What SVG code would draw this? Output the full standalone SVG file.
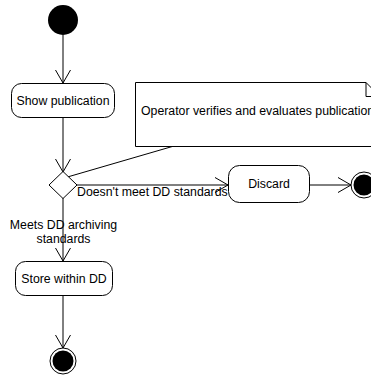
<svg xmlns="http://www.w3.org/2000/svg" width="371" height="380" viewBox="0 0 371 380">
  <defs>
    <style>
      .node { fill: #fff; stroke: #000; stroke-width: 1; }
      .line { fill: none; stroke: #000; stroke-width: 1; }
      .label { font-family: "Liberation Sans", Arial, sans-serif; font-size: 12.3px; fill: #000; }
      .mid { text-anchor: middle; }
    </style>
    <marker id="open" viewBox="0 0 14 16" refX="13" refY="8" markerWidth="14" markerHeight="16" markerUnits="userSpaceOnUse" orient="auto">
      <path d="M0,0.5 L13,8 L0,15.5" fill="none" stroke="#000" stroke-width="1"/>
    </marker>
  </defs>
  <rect width="371" height="380" fill="#fff"/>

  <g id="connectors">
    <line class="line" x1="63" y1="35" x2="63" y2="83" marker-end="url(#open)"/>
    <line class="line" x1="63" y1="118" x2="63" y2="172" marker-end="url(#open)"/>
    <line class="line" x1="77" y1="185" x2="228" y2="185" marker-end="url(#open)"/>
    <line class="line" x1="310" y1="185" x2="351" y2="185" marker-end="url(#open)"/>
    <line class="line" x1="63" y1="198" x2="63" y2="261" marker-end="url(#open)"/>
    <line class="line" x1="63" y1="296" x2="63" y2="348" marker-end="url(#open)"/>
    <line class="line" x1="174" y1="146" x2="64" y2="178"/>
    <text class="label" x="77" y="196">Doesn't meet DD standards</text>
    <text class="label mid" x="63.5" y="229">Meets DD archiving</text>
    <text class="label mid" x="63.5" y="243">standards</text>
  </g>

  <g id="start">
    <circle cx="63" cy="20" r="15" fill="#000"/>
  </g>

  <g id="show-publication">
    <rect class="node" x="11.5" y="83.5" width="103" height="34" rx="10"/>
    <text class="label mid" x="63" y="105">Show publication</text>
  </g>

  <g id="note">
    <path class="node" d="M135.5,82.5 H366 L380,96.5 V146.5 H135.5 Z"/>
    <path class="line" d="M366,82.5 V96.5 H380"/>
    <text class="label" x="141" y="115">Operator verifies and evaluates publication</text>
  </g>

  <g id="decision">
    <path class="node" d="M63,171.5 L77,185 L63,198.5 L49,185 Z"/>
  </g>

  <g id="discard">
    <rect class="node" x="228.5" y="165.5" width="81" height="37" rx="11"/>
    <text class="label mid" x="269" y="188">Discard</text>
  </g>

  <g id="end-discard">
    <circle cx="364" cy="185" r="13" fill="#fff" stroke="#000" stroke-width="1"/>
    <circle cx="364" cy="185" r="10.5" fill="#000"/>
  </g>

  <g id="store">
    <rect class="node" x="15.5" y="261.5" width="97" height="34" rx="10"/>
    <text class="label mid" x="64" y="283">Store within DD</text>
  </g>

  <g id="end-store">
    <circle cx="63" cy="361" r="13" fill="#fff" stroke="#000" stroke-width="1"/>
    <circle cx="63" cy="361" r="10.5" fill="#000"/>
  </g>
</svg>
